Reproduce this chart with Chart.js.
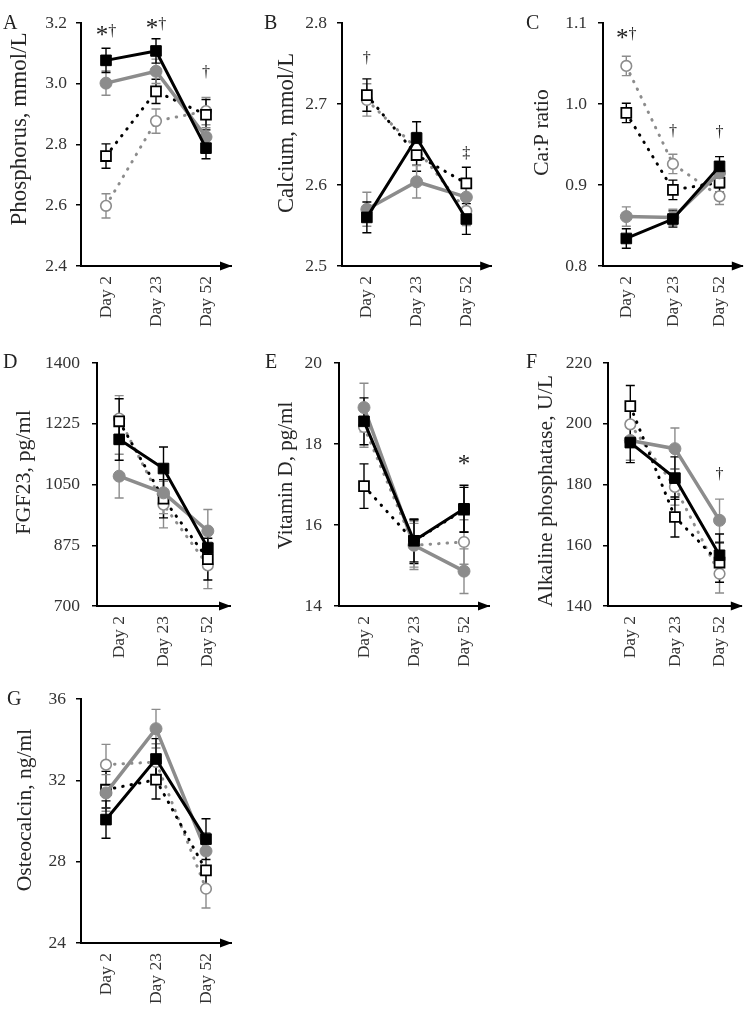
<!DOCTYPE html>
<html><head><meta charset="utf-8">
<script src="https://cdn.jsdelivr.net/npm/chart.js@4.4.1/dist/chart.umd.min.js"></script>
<style>
html,body{margin:0;padding:0;background:#fff;}
#wrap{position:relative;width:752px;height:1009px;overflow:hidden;}
#wrap canvas{position:absolute;}
</style></head><body><div id="wrap"></div>
<script>
// ---------- data ----------
const categories = ['Day 2', 'Day 23', 'Day 52'];

// A: Phosphorus, mmol/L
const phosBlackFilled = [3.077, 3.108, 2.788];
const phosBlackFilledErr = [0.04, 0.04, 0.035];
const phosGrayFilled = [3.002, 3.041, 2.825];
const phosGrayFilledErr = [0.04, 0.04, 0.03];
const phosBlackOpen = [2.762, 2.975, 2.898];
const phosBlackOpenErr = [0.04, 0.04, 0.05];
const phosGrayOpen = [2.598, 2.877, 2.91];
const phosGrayOpenErr = [0.04, 0.04, 0.045];
const phosTicks = [2.4, 2.6, 2.8, 3.0, 3.2];
const phosNotes = ['*†', '*†', '†'];
const phosNoteAt = [3.175, 3.196, 3.038];

// B: Calcium, mmol/L
const caBlackFilled = [2.560, 2.658, 2.558];
const caBlackFilledErr = [0.019, 0.02, 0.019];
const caGrayFilled = [2.570, 2.604, 2.585];
const caGrayFilledErr = [0.021, 0.02, 0.018];
const caBlackOpen = [2.711, 2.637, 2.602];
const caBlackOpenErr = [0.02, 0.02, 0.02];
const caGrayOpen = [2.705, 2.645, 2.568];
const caGrayOpenErr = [0.02, 0.02, 0.018];
const caTicks = [2.5, 2.6, 2.7, 2.8];
const caNotes = ['†', '', '‡'];
const caNoteAt = [2.757, 0, 2.64];

// C: Ca:P ratio
const ratioBlackFilled = [0.834, 0.858, 0.923];
const ratioBlackFilledErr = [0.012, 0.01, 0.012];
const ratioGrayFilled = [0.861, 0.860, 0.915];
const ratioGrayFilledErr = [0.012, 0.01, 0.012];
const ratioBlackOpen = [0.989, 0.894, 0.903];
const ratioBlackOpenErr = [0.012, 0.012, 0.012];
const ratioGrayOpen = [1.047, 0.926, 0.886];
const ratioGrayOpenErr = [0.012, 0.012, 0.01];
const ratioTicks = [0.8, 0.9, 1.0, 1.1];
const ratioNotes = ['*†', '†', '†'];
const ratioNoteAt = [1.087, 0.967, 0.965];

// D: FGF23, pg/ml
const fgfBlackFilled = [1180, 1096, 867];
const fgfBlackFilledErr = [60, 62, 55];
const fgfGrayFilled = [1074, 1026, 916];
const fgfGrayFilledErr = [63, 60, 62];
const fgfBlackOpen = [1232, 1009, 835];
const fgfBlackOpenErr = [65, 55, 60];
const fgfGrayOpen = [1240, 992, 817];
const fgfGrayOpenErr = [66, 67, 67];
const fgfTicks = [700, 875, 1050, 1225, 1400];
const fgfNotes = ['', '', ''];
const fgfNoteAt = [0, 0, 0];

// E: Vitamin D, pg/ml
const vitdBlackFilled = [18.56, 15.61, 16.40];
const vitdBlackFilledErr = [0.58, 0.52, 0.58];
const vitdGrayFilled = [18.90, 15.50, 14.86];
const vitdGrayFilledErr = [0.6, 0.54, 0.55];
const vitdBlackOpen = [16.96, 15.60, 16.38];
const vitdBlackOpenErr = [0.55, 0.55, 0.55];
const vitdGrayOpen = [18.42, 15.50, 15.58];
const vitdGrayOpenErr = [0.5, 0.6, 0.55];
const vitdTicks = [14, 16, 18, 20];
const vitdNotes = ['', '', '*'];
const vitdNoteAt = [0, 0, 17.61];

// F: Alkaline phosphatase, U/L
const alpBlackFilled = [193.8, 182.1, 156.7];
const alpBlackFilledErr = [6.6, 7, 7];
const alpGrayFilled = [194.5, 191.8, 168.2];
const alpGrayFilledErr = [6.5, 6.8, 7];
const alpBlackOpen = [205.8, 169.3, 154.3];
const alpBlackOpenErr = [6.8, 6.6, 6.5];
const alpGrayOpen = [199.8, 179.2, 150.6];
const alpGrayOpenErr = [6, 6, 6.3];
const alpTicks = [140, 160, 180, 200, 220];
const alpNotes = ['', '', '†'];
const alpNoteAt = [0, 0, 183.6];

// G: Osteocalcin, ng/ml
const ocBlackFilled = [30.07, 33.05, 29.11];
const ocBlackFilledErr = [0.92, 1.0, 1.0];
const ocGrayFilled = [31.38, 34.54, 28.52];
const ocGrayFilledErr = [0.9, 0.95, 0.9];
const ocBlackOpen = [31.54, 32.03, 27.57];
const ocBlackOpenErr = [0.9, 0.95, 0.8];
const ocGrayOpen = [32.77, 32.9, 26.67];
const ocGrayOpenErr = [1.0, 0.9, 0.95];
const ocTicks = [24, 28, 32, 36];
const ocNotes = ['', '', ''];
const ocNoteAt = [0, 0, 0];

// ---------- styling / layout ----------
const BLACK = '#000000';
const GRAY = '#8c8c8c';
const TEXT = '#333333';
const SERIF = "'Liberation Serif', 'Times New Roman', serif";

const panels = [
  { letter: 'A', title: 'Phosphorus, mmol/L', data: [phosBlackFilled, phosGrayFilled, phosBlackOpen, phosGrayOpen],
    errs: [phosBlackFilledErr, phosGrayFilledErr, phosBlackOpenErr, phosGrayOpenErr], ticks: phosTicks, dec: 1,
    notes: phosNotes, noteAt: phosNoteAt, titleSize: 23,
    box: { x: 0, y: 0, w: 250, h: 345 }, area: { l: 81, t: 23, r: 231, b: 266 }, tickPad: 9,
    titlePos: [20, 129], letterPos: [3, 29] },
  { letter: 'B', title: 'Calcium, mmol/L', data: [caBlackFilled, caGrayFilled, caBlackOpen, caGrayOpen],
    errs: [caBlackFilledErr, caGrayFilledErr, caBlackOpenErr, caGrayOpenErr], ticks: caTicks, dec: 1,
    notes: caNotes, noteAt: caNoteAt, titleSize: 22.5,
    box: { x: 250, y: 0, w: 250, h: 345 }, area: { l: 92, t: 23, r: 242, b: 266 }, tickPad: 10,
    titlePos: [37, 133], letterPos: [14, 29] },
  { letter: 'C', title: 'Ca:P ratio', data: [ratioBlackFilled, ratioGrayFilled, ratioBlackOpen, ratioGrayOpen],
    errs: [ratioBlackFilledErr, ratioGrayFilledErr, ratioBlackOpenErr, ratioGrayOpenErr], ticks: ratioTicks, dec: 1,
    notes: ratioNotes, noteAt: ratioNoteAt, titleSize: 21.5,
    box: { x: 500, y: 0, w: 252, h: 345 }, area: { l: 103, t: 23, r: 251, b: 266 }, tickPad: 11,
    titlePos: [42.5, 132.5], letterPos: [26, 29] },
  { letter: 'D', title: 'FGF23, pg/ml', data: [fgfBlackFilled, fgfGrayFilled, fgfBlackOpen, fgfGrayOpen],
    errs: [fgfBlackFilledErr, fgfGrayFilledErr, fgfBlackOpenErr, fgfGrayOpenErr], ticks: fgfTicks, dec: 0,
    notes: fgfNotes, noteAt: fgfNoteAt, titleSize: 22,
    box: { x: 0, y: 320, w: 250, h: 365 }, area: { l: 97, t: 43, r: 230, b: 286 }, tickPad: 12,
    titlePos: [24, 152.5], letterPos: [3, 48] },
  { letter: 'E', title: 'Vitamin D, pg/ml', data: [vitdBlackFilled, vitdGrayFilled, vitdBlackOpen, vitdGrayOpen],
    errs: [vitdBlackFilledErr, vitdGrayFilledErr, vitdBlackOpenErr, vitdGrayOpenErr], ticks: vitdTicks, dec: 0,
    notes: vitdNotes, noteAt: vitdNoteAt, titleSize: 21,
    box: { x: 250, y: 320, w: 250, h: 365 }, area: { l: 89, t: 43, r: 239, b: 286 }, tickPad: 12,
    titlePos: [36, 155.5], letterPos: [15, 48] },
  { letter: 'F', title: 'Alkaline phosphatase, U/L', data: [alpBlackFilled, alpGrayFilled, alpBlackOpen, alpGrayOpen],
    errs: [alpBlackFilledErr, alpGrayFilledErr, alpBlackOpenErr, alpGrayOpenErr], ticks: alpTicks, dec: 0,
    notes: alpNotes, noteAt: alpNoteAt, titleSize: 21.7,
    box: { x: 500, y: 320, w: 252, h: 365 }, area: { l: 108, t: 43, r: 250, b: 286 }, tickPad: 11,
    titlePos: [46, 171], letterPos: [26, 48] },
  { letter: 'G', title: 'Osteocalcin, ng/ml', data: [ocBlackFilled, ocGrayFilled, ocBlackOpen, ocGrayOpen],
    errs: [ocBlackFilledErr, ocGrayFilledErr, ocBlackOpenErr, ocGrayOpenErr], ticks: ocTicks, dec: 0,
    notes: ocNotes, noteAt: ocNoteAt, titleSize: 21.5,
    box: { x: 0, y: 650, w: 250, h: 359 }, area: { l: 81, t: 49, r: 231, b: 293 }, tickPad: 10,
    titlePos: [25, 160], letterPos: [7, 55] }
];

const seriesStyles = [
  { color: BLACK, width: 3, dash: [], style: 'rect', radius: 7.5, fill: BLACK, pbw: 1, order: 0 },
  { color: GRAY, width: 3.5, dash: [], style: 'circle', radius: 6, fill: GRAY, pbw: 1, order: 1 },
  { color: BLACK, width: 3, dash: [0.5, 8], style: 'rect', radius: 7, fill: '#ffffff', pbw: 1.8, order: 2 },
  { color: GRAY, width: 3, dash: [0.5, 8], style: 'circle', radius: 5.3, fill: '#ffffff', pbw: 1.6, order: 3 }
];

function drawNote(ctx, text, cx, cy) {
  // '*' drawn larger, daggers smaller; ink of each glyph centred on cy
  const parts = Array.from(text).map((ch) => {
    const font = (ch === '*' ? '25px ' : '16px ') + SERIF;
    ctx.font = font;
    const m = ctx.measureText(ch);
    return { ch, font, w: m.width, asc: m.actualBoundingBoxAscent, desc: m.actualBoundingBoxDescent };
  });
  const total = parts.reduce((a, p) => a + p.w, 0);
  let x = cx - total / 2;
  ctx.textAlign = 'left';
  ctx.textBaseline = 'alphabetic';
  parts.forEach((p) => {
    ctx.font = p.font;
    ctx.fillText(p.ch, x, cy + (p.asc - p.desc) / 2);
    x += p.w;
  });
}

function decoPlugin(p) {
  return {
    id: 'deco' + p.letter,
    beforeDatasetsDraw(chart) {
      const ctx = chart.ctx, ys = chart.scales.y;
      ctx.save();
      ctx.lineWidth = 1.4;
      for (let i = p.data.length - 1; i >= 0; i--) {
        const meta = chart.getDatasetMeta(i);
        ctx.strokeStyle = seriesStyles[i].color;
        p.data[i].forEach((v, j) => {
          const x = meta.data[j].x;
          const y1 = ys.getPixelForValue(v + p.errs[i][j]);
          const y2 = ys.getPixelForValue(v - p.errs[i][j]);
          ctx.beginPath();
          ctx.moveTo(x, y1); ctx.lineTo(x, y2);
          ctx.moveTo(x - 4.5, y1); ctx.lineTo(x + 4.5, y1);
          ctx.moveTo(x - 4.5, y2); ctx.lineTo(x + 4.5, y2);
          ctx.stroke();
        });
      }
      ctx.restore();
    },
    afterDraw(chart) {
      const ctx = chart.ctx, ca = chart.chartArea, xs = chart.scales.x, ys = chart.scales.y;
      ctx.save();
      // arrow head on x axis
      ctx.fillStyle = BLACK;
      ctx.beginPath();
      ctx.moveTo(ca.right + 1, ca.bottom);
      ctx.lineTo(ca.right - 11, ca.bottom - 4.5);
      ctx.lineTo(ca.right - 11, ca.bottom + 4.5);
      ctx.closePath();
      ctx.fill();
      // y axis title
      ctx.fillStyle = '#262626';
      ctx.font = p.titleSize + 'px ' + SERIF;
      ctx.textAlign = 'center';
      ctx.textBaseline = 'middle';
      ctx.translate(p.titlePos[0], p.titlePos[1]);
      ctx.rotate(-Math.PI / 2);
      ctx.fillText(p.title, 0, 0);
      ctx.restore();
      // panel letter
      ctx.save();
      ctx.fillStyle = '#222222';
      ctx.font = '20px ' + SERIF;
      ctx.textAlign = 'left';
      ctx.textBaseline = 'alphabetic';
      ctx.fillText(p.letter, p.letterPos[0], p.letterPos[1]);
      // significance notes
      ctx.fillStyle = '#222222';
      p.notes.forEach((t, j) => {
        if (!t) return;
        drawNote(ctx, t, xs.getPixelForValue(j), ys.getPixelForValue(p.noteAt[j]));
      });
      ctx.restore();
    }
  };
}

const wrap = document.getElementById('wrap');
panels.forEach((p) => {
  const cv = document.createElement('canvas');
  cv.width = p.box.w; cv.height = p.box.h;
  cv.style.left = p.box.x + 'px'; cv.style.top = p.box.y + 'px';
  cv.style.width = p.box.w + 'px'; cv.style.height = p.box.h + 'px';
  wrap.appendChild(cv);
  const lo = p.ticks[0], hi = p.ticks[p.ticks.length - 1];
  const step = p.ticks[1] - p.ticks[0];
  new Chart(cv, {
    type: 'line',
    data: {
      labels: categories,
      datasets: p.data.map((d, i) => {
        const s = seriesStyles[i];
        return {
          data: d, order: s.order,
          borderColor: s.color, borderWidth: s.width, borderDash: s.dash,
          borderCapStyle: s.dash.length ? 'round' : 'butt', borderJoinStyle: 'miter',
          pointStyle: s.style, pointRadius: s.radius, pointHoverRadius: s.radius,
          pointBackgroundColor: s.fill, pointBorderColor: s.color, pointBorderWidth: s.pbw,
          tension: 0, fill: false
        };
      })
    },
    options: {
      responsive: false, animation: false, devicePixelRatio: 1,
      events: [],
      layout: { padding: { left: 0, top: p.area.t, right: p.box.w - p.area.r, bottom: 0 } },
      plugins: { legend: { display: false }, tooltip: { enabled: false } },
      scales: {
        x: {
          type: 'category', offset: true,
          grid: { display: false, drawTicks: false },
          border: { display: true, color: BLACK, width: 2 },
          ticks: { color: TEXT, font: { family: SERIF, size: 17.5 }, minRotation: 90, maxRotation: 90, padding: 10, autoSkip: false },
          afterFit: (s) => { s.height = p.box.h - p.area.b; }
        },
        y: {
          min: lo, max: hi,
          grid: { display: true, drawOnChartArea: false, drawTicks: true, tickLength: 5, color: BLACK, lineWidth: 1.5 },
          border: { display: true, color: BLACK, width: 2 },
          ticks: {
            stepSize: step, color: TEXT, font: { family: SERIF, size: 17.5 }, padding: p.tickPad,
            callback: (v) => Number(v).toFixed(p.dec)
          },
          afterFit: (s) => { s.width = p.area.l; }
        }
      }
    },
    plugins: [decoPlugin(p)]
  });
});
</script>
</body></html>
